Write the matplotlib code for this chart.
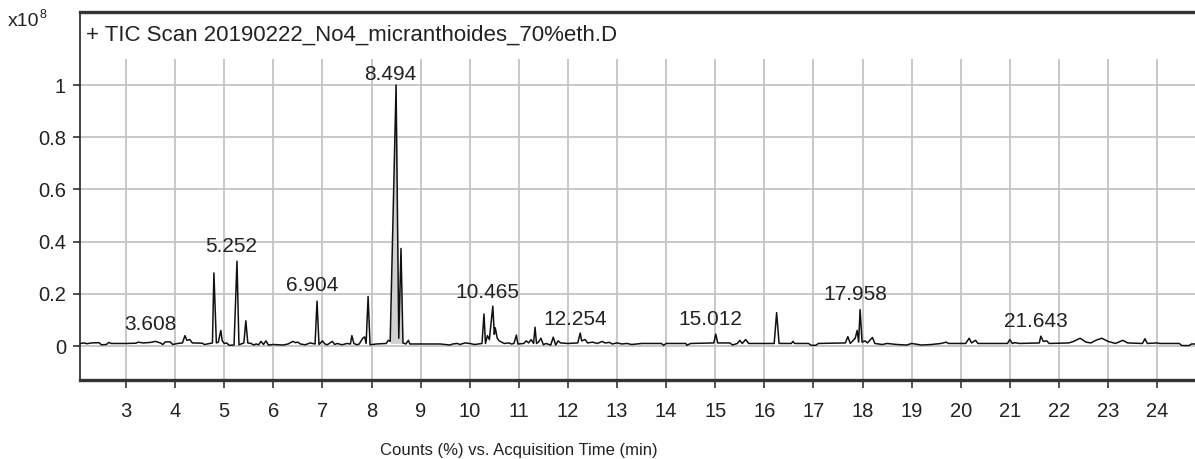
import matplotlib
matplotlib.use("Agg")
import matplotlib.pyplot as plt

plt.rcParams['font.family'] = ['Liberation Sans', 'DejaVu Sans']

# ---- data (retention time in min, counts in 1e8) ----
times = [2.07, 2.15, 2.2, 2.3, 2.45, 2.5, 2.6, 2.65, 2.7, 3.0, 3.2, 3.25, 3.35, 3.5, 3.6, 3.7, 3.75, 3.8, 3.9, 3.95,
         4.05, 4.15, 4.2, 4.24, 4.3, 4.35, 4.55, 4.6, 4.7, 4.76, 4.79, 4.84, 4.88, 4.93, 4.96, 5.0, 5.05, 5.1, 5.2,
         5.26, 5.3, 5.4, 5.44, 5.48, 5.55, 5.6, 5.65, 5.7, 5.75, 5.8, 5.85, 5.9, 6.0, 6.2, 6.3, 6.4, 6.45, 6.5, 6.55,
         6.65, 6.75, 6.85, 6.89, 6.93, 7.0, 7.05, 7.1, 7.2, 7.25, 7.3, 7.4, 7.5, 7.57, 7.6, 7.64, 7.7, 7.75, 7.82,
         7.86, 7.89, 7.93, 7.97, 8.1, 8.3, 8.34, 8.38, 8.50, 8.555, 8.60, 8.64, 8.7, 8.75, 8.78, 9.0,
         9.4, 9.6, 9.65, 9.75, 9.8, 9.9, 10.0, 10.1, 10.25, 10.29, 10.32, 10.36, 10.4, 10.47, 10.5, 10.52, 10.56,
         10.6, 10.7, 10.8, 10.85, 10.9, 10.95, 10.98, 11.1, 11.15, 11.2, 11.25, 11.3, 11.33, 11.36, 11.4, 11.45,
         11.5, 11.55, 11.65, 11.7, 11.75, 11.8, 11.85, 12.0, 12.2, 12.25, 12.28, 12.35, 12.4, 12.5, 12.6, 12.7,
         12.75, 12.85, 12.9, 13.0, 13.1, 13.2, 13.3, 13.5, 13.9, 13.95, 14.0, 14.4, 14.42, 14.5, 14.97, 15.01,
         15.05, 15.3, 15.35, 15.45, 15.5, 15.55, 15.62, 15.68, 16.2, 16.25, 16.3, 16.55, 16.58, 16.62, 16.9, 16.95,
         17.05, 17.1, 17.65, 17.70, 17.75, 17.85, 17.89, 17.92, 17.95, 17.99, 18.05, 18.1, 18.2, 18.25, 18.4, 18.5,
         18.7, 18.9, 19.0, 19.2, 19.4, 19.6, 19.7, 19.75, 20.1, 20.17, 20.22, 20.3, 20.35, 20.95, 21.0, 21.05, 21.1,
         21.2, 21.6, 21.63, 21.68, 21.75, 21.8, 22.2, 22.3, 22.43, 22.55, 22.65, 22.75, 22.87, 23.0, 23.15, 23.3,
         23.4, 23.7, 23.75, 23.8, 24.0, 24.05, 24.45, 24.5, 24.65, 24.7, 24.78]
counts = [0.010, 0.012, 0.009, 0.012, 0.013, 0.005, 0.006, 0.014, 0.010, 0.010, 0.011, 0.015, 0.012, 0.014, 0.018,
          0.012, 0.006, 0.016, 0.016, 0.006, 0.010, 0.012, 0.040, 0.022, 0.025, 0.012, 0.011, 0.006, 0.010, 0.012,
          0.280, 0.012, 0.015, 0.060, 0.020, 0.010, 0.012, 0.003, 0.004, 0.325, 0.005, 0.012, 0.097, 0.012, 0.010,
          0.004, 0.008, 0.005, 0.018, 0.006, 0.020, 0.004, 0.006, 0.004, 0.008, 0.018, 0.013, 0.015, 0.008, 0.005,
          0.012, 0.008, 0.172, 0.006, 0.020, 0.008, 0.005, 0.018, 0.006, 0.010, 0.005, 0.010, 0.008, 0.040, 0.010,
          0.005, 0.008, 0.030, 0.035, 0.010, 0.190, 0.005, 0.008, 0.010, 0.022, 0.018, 1.000, 0.030,
          0.374, 0.012, 0.008, 0.022, 0.008, 0.008, 0.008, 0.004, 0.008, 0.010, 0.006, 0.012, 0.010, 0.006, 0.010,
          0.123, 0.010, 0.040, 0.025, 0.153, 0.045, 0.070, 0.030, 0.020, 0.010, 0.012, 0.008, 0.010, 0.042, 0.008,
          0.010, 0.020, 0.012, 0.025, 0.010, 0.072, 0.010, 0.015, 0.030, 0.005, 0.010, 0.004, 0.034, 0.004, 0.020,
          0.012, 0.010, 0.012, 0.050, 0.020, 0.025, 0.012, 0.015, 0.010, 0.018, 0.012, 0.014, 0.008, 0.012, 0.008,
          0.010, 0.006, 0.010, 0.010, 0.003, 0.010, 0.010, 0.003, 0.010, 0.012, 0.046, 0.012, 0.012, 0.004, 0.010,
          0.022, 0.010, 0.025, 0.010, 0.010, 0.128, 0.010, 0.010, 0.018, 0.010, 0.010, 0.003, 0.003, 0.010, 0.012,
          0.036, 0.010, 0.030, 0.060, 0.015, 0.140, 0.015, 0.020, 0.012, 0.033, 0.010, 0.006, 0.010, 0.006, 0.004,
          0.010, 0.004, 0.006, 0.010, 0.015, 0.010, 0.010, 0.030, 0.012, 0.022, 0.010, 0.010, 0.025, 0.010, 0.013,
          0.010, 0.012, 0.038, 0.018, 0.020, 0.010, 0.012, 0.018, 0.030, 0.015, 0.012, 0.022, 0.030, 0.018, 0.010,
          0.022, 0.012, 0.010, 0.028, 0.010, 0.012, 0.010, 0.010, 0.002, 0.002, 0.008, 0.008]

# integrated (shaded) peak region
shade_start = 8.38
shade_end = 8.64

peak_labels = ["3.608", "5.252", "6.904", "8.494", "10.465", "12.254", "15.012", "17.958", "21.643"]
label_x = [3.608, 5.252, 6.904, 8.494, 10.465, 12.254, 15.012, 17.958, 21.643]
label_y = [0.050, 0.349, 0.200, 1.010, 0.176, 0.069, 0.069, 0.166, 0.064]

x_ticks = list(range(3, 25))
y_ticks = [0, 0.2, 0.4, 0.6, 0.8, 1.0]
y_ticklabels = ["0", "0.2", "0.4", "0.6", "0.8", "1"]

title = "+ TIC Scan 20190222_No4_micranthoides_70%eth.D"
xlabel = "Counts (%) vs. Acquisition Time (min)"

# ---- figure ----
W, H = 1195, 459
fig = plt.figure(figsize=(W / 100, H / 100), dpi=100)
ax = fig.add_axes([80 / W, 1 - 380 / H, 1 - 80 / W, (380 - 12) / H])

xmin, xmax = 2.063, 24.77
ymin, ymax = -0.13, 1.28
ax.set_xlim(xmin, xmax)
ax.set_ylim(ymin, ymax)

grid_c = "#c4c4c4"
for yv in y_ticks:
    ax.axhline(yv, color=grid_c, lw=1.3, zorder=0)
ax.vlines(x_ticks, ymin, 1.1, color=grid_c, lw=1.3, zorder=0)

sx = [t for t in times if shade_start <= t <= shade_end]
sy = [c for t, c in zip(times, counts) if shade_start <= t <= shade_end]
ax.fill_between(sx, sy, 0.010, color="#d2d2d2", zorder=1, lw=0)
ax.plot(times, counts, color="#111111", lw=1.1, zorder=2)

for lab, lx, ly in zip(peak_labels, label_x, label_y):
    ax.annotate(lab, xy=(lx, ly), xytext=(-4, -1), textcoords="offset points",
                ha="center", va="bottom", fontsize=15, color="#222222", zorder=3)

ax.text(6 / 1115, (380 - 35) / 368, title, transform=ax.transAxes, ha="left", va="center",
        fontsize=16, color="#222222")

ax.set_xticks(x_ticks)
ax.set_xticklabels([str(v) for v in x_ticks])
ax.set_yticks(y_ticks)
ax.set_yticklabels(y_ticklabels)
ax.tick_params(axis="x", direction="out", length=6, width=1.2, color="#333333",
               labelsize=14.5, labelcolor="#222222", pad=10)
ax.tick_params(axis="y", direction="out", length=5, width=1.2, color="#333333",
               labelsize=14.5, labelcolor="#222222", pad=5)

for s in ["left"]:
    ax.spines[s].set_color("#222222")
    ax.spines[s].set_linewidth(1.2)
for s in ["top", "bottom"]:
    ax.spines[s].set_color("#333333")
    ax.spines[s].set_linewidth(2.4)
ax.spines["right"].set_visible(False)

fig.text(519 / W, 1 - 450 / H, xlabel, ha="center", va="center", fontsize=12, color="#222222")
fig.text(8 / W, 1 - 21 / H, "x10", ha="left", va="center", fontsize=14, color="#222222")
fig.text(40 / W, 1 - 15 / H, "8", ha="left", va="center", fontsize=9, color="#222222")

fig.savefig("out.png", dpi=100)
